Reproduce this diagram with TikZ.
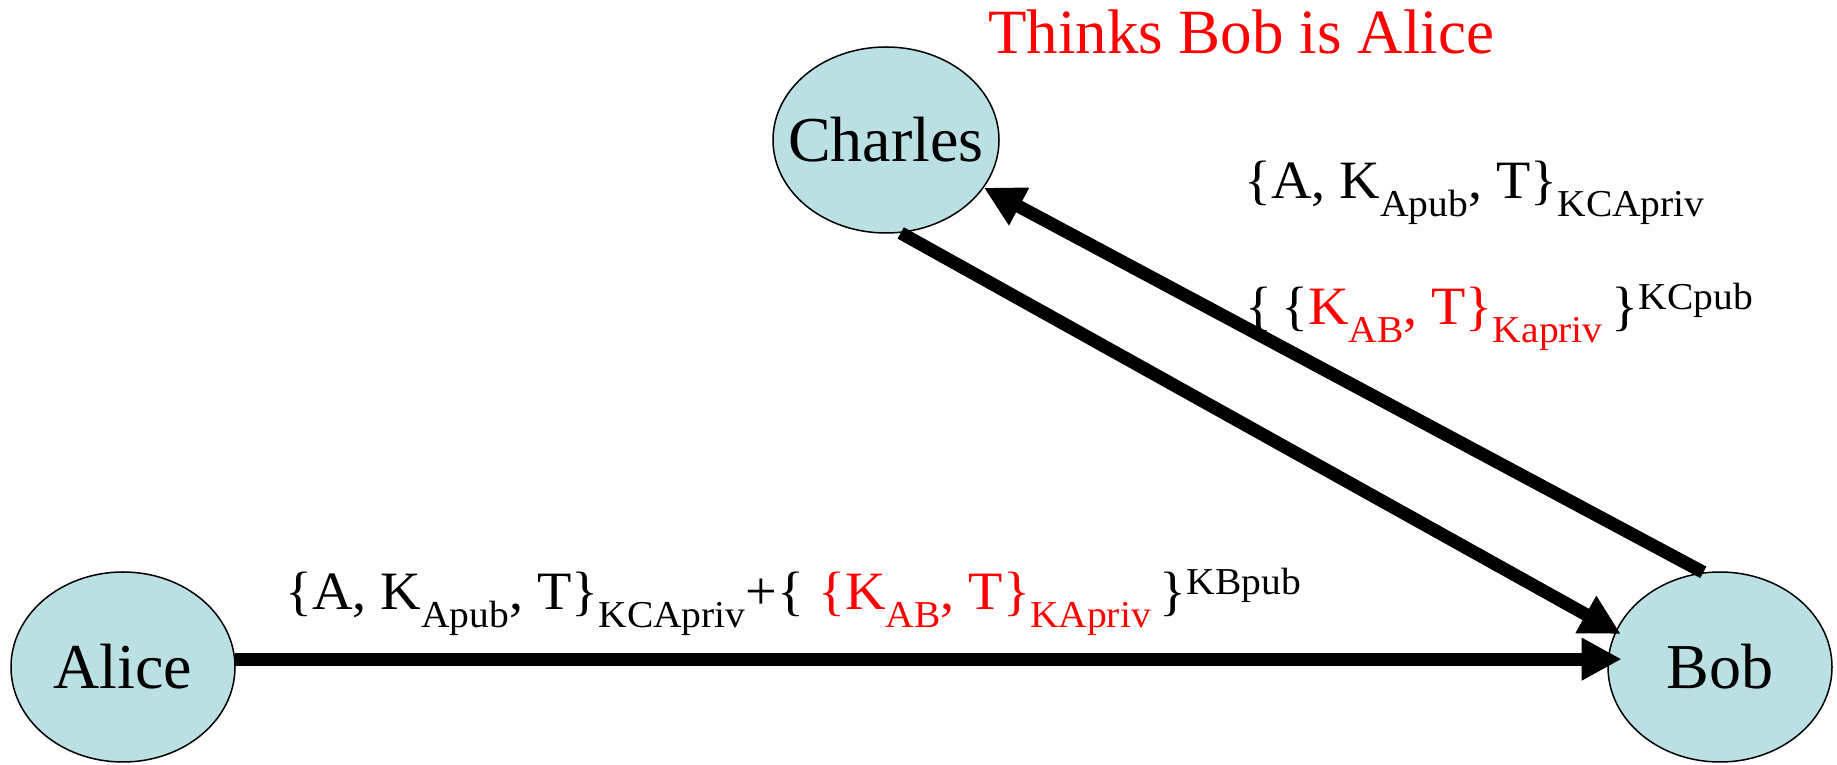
\documentclass[tikz,border=0pt]{standalone}
\usepackage{fontspec}
\setmainfont{Liberation Serif}
\newfontfamily\lblfont{Liberation Serif}[FakeStretch=1.04]
\usetikzlibrary{shapes.geometric,arrows.meta}
\definecolor{nodefill}{RGB}{187,224,227}
\definecolor{myred}{RGB}{255,0,0}
\newcommand{\sbt}[1]{\raisebox{-18pt}{\fontsize{38}{40}\selectfont #1}}
\newcommand{\spt}[1]{\raisebox{15pt}{\fontsize{38}{40}\selectfont #1}}
\newcommand{\nm}[1]{\makebox[0pt]{#1}}
\tikzset{
  party/.style={ellipse,draw=black,line width=1.5pt,fill=nodefill,
    minimum width=224pt,minimum height=190pt,inner sep=0pt,
    font=\fontsize{64}{70}\selectfont},
  msg/.style={anchor=base west,inner sep=0pt,font=\lblfont\fontsize{54}{60}\selectfont},
  flow/.style={line width=13pt,-{Triangle[length=40pt,width=40pt]}}
}
\begin{document}
\begin{tikzpicture}[x=1pt,y=1pt]
\useasboundingbox (0,0) rectangle (1837,765);
\node[party] (alice) at (123,98) {\nm{Alice}};
\node[party] (bob) at (1720,98) {\nm{Bob}};
\node[party,minimum width=226pt,minimum height=186pt] (charles) at (886,625) {\nm{Charles}};
\node[anchor=base west,inner sep=0pt,text=myred,font=\fontsize{63}{70}\selectfont] (thinks) at (988,711) {Thinks Bob is Alice};
\node[msg] (m1) at (285,155) {\{A, K\sbt{Apub}, T\}\sbt{KCApriv}+\{ \textcolor{myred}{\{K\sbt{AB}, T\}\sbt{KApriv}}\,\}\spt{KBpub}};
\node[msg] (m2) at (1244,566) {\{A, K\sbt{Apub}, T\}\sbt{KCApriv}};
\node[msg] (m3) at (1245,440) {\{\,\{\textcolor{myred}{K\sbt{AB}, T\}\sbt{Kapriv}}\,\}\spt{KCpub}};
\draw[flow,shorten >=-14pt] (alice.4) -- (bob.176);
\draw[flow,shorten >=-6pt] (charles.-81) -- (bob.161);
\draw[flow] (bob.100) -- (charles.-26);
\end{tikzpicture}
\end{document}
